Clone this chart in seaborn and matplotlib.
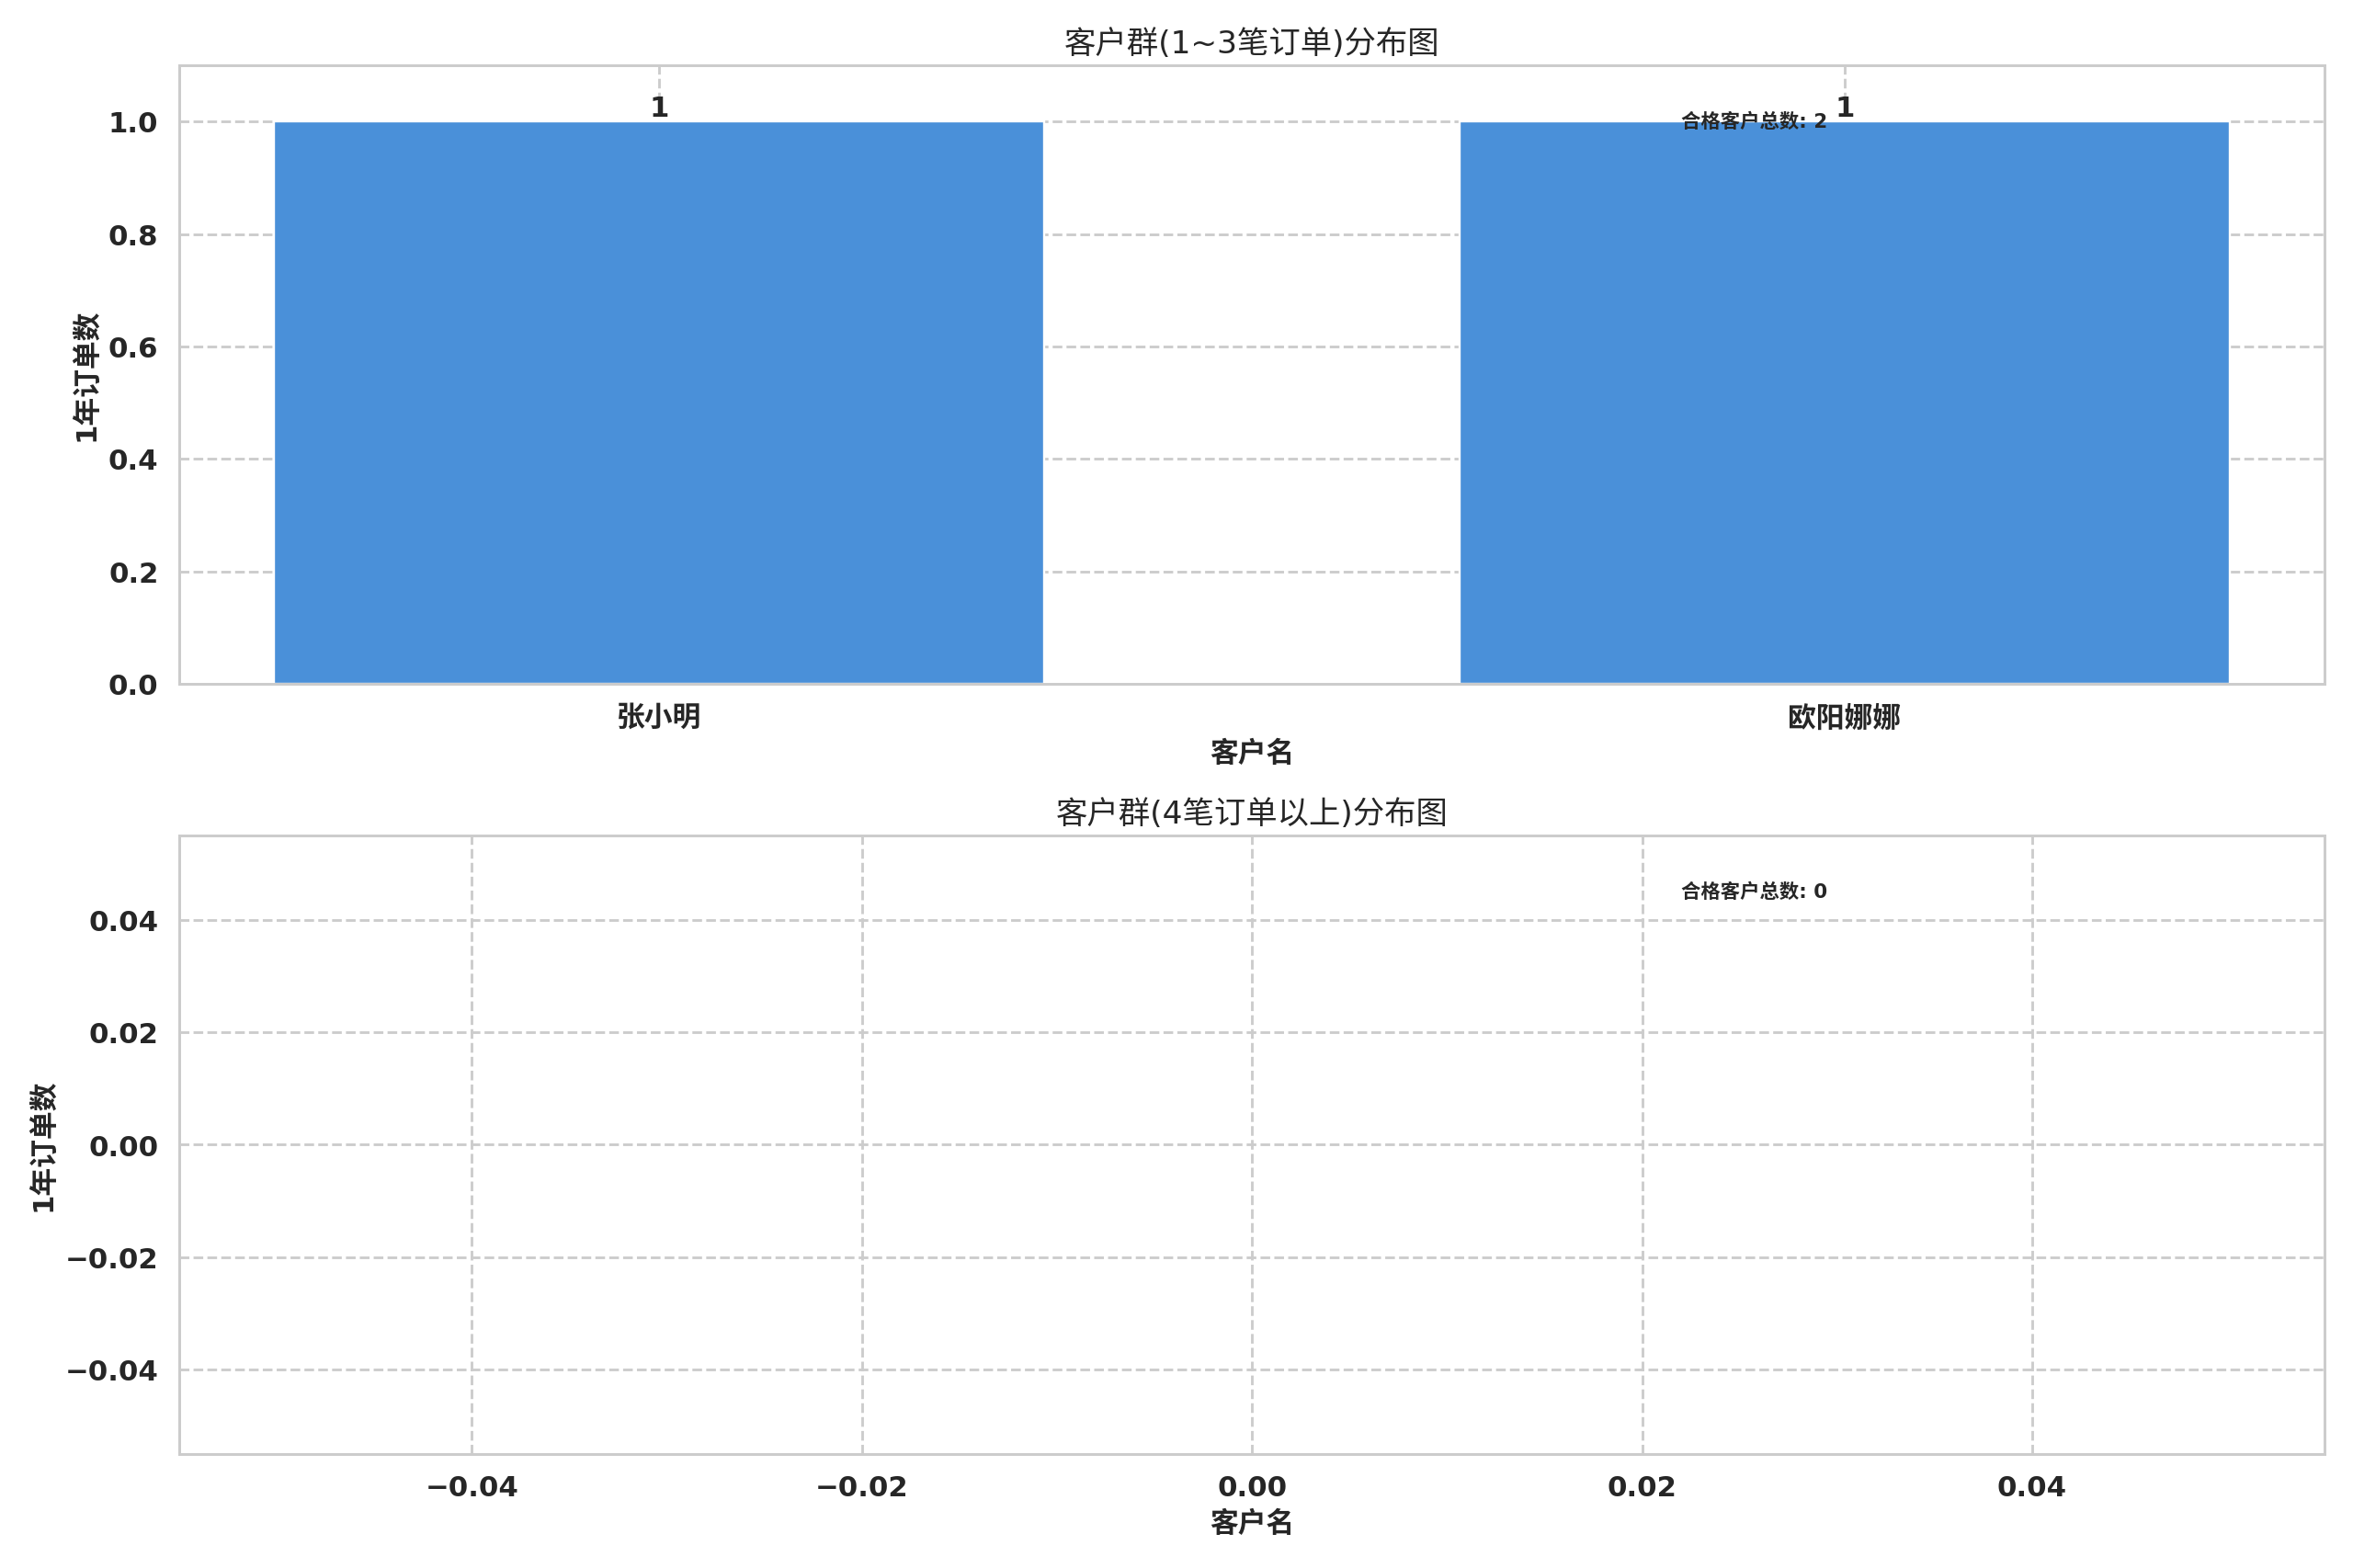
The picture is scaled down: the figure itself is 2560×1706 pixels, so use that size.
import matplotlib
matplotlib.use("Agg")
import matplotlib.pyplot as plt
import seaborn as sns
import pandas as pd

# --- données ---
short_names = ["张小明", "欧阳娜娜"]      # clients 1~3 commandes
short_counts = [1, 1]
long_names = []                          # clients 4+ commandes
long_counts = []

TITLE_SHORT = "客户群(1~3笔订单)分布图"
TITLE_LONG = "客户群(4笔订单以上)分布图"
XLABEL = "客户名"
YLABEL = "1年订单数"
NOTE = "合格客户总数"
BAR_COLOR = "#4A90D9"

sns.set_theme(style="whitegrid")
plt.rcParams["font.family"] = ["DejaVu Sans", "Noto Sans CJK SC"]

fig, axes = plt.subplots(2, 1, figsize=(15, 10))

# 1. groupe court
ax = axes[0]
df_short = pd.DataFrame({"name": short_names, "count": short_counts})
sns.barplot(data=df_short, x="name", y="count", color=BAR_COLOR,
            width=0.65, saturation=1, ax=ax)
ax.set_xlim(-0.405, 1.405)
ax.set_ylim(0, 1.1)
for i, v in enumerate(short_counts):
    ax.text(i, v, str(v), ha="center", va="bottom", fontsize=13, fontweight="bold")
ax.text(0.7, 0.9, f"{NOTE}: {len(short_names)}", transform=ax.transAxes,
        fontsize=9, fontweight="bold")
ax.set_title(TITLE_SHORT, fontsize=14.5)

# 2. groupe long (vide)
ax = axes[1]
ax.bar(long_names, long_counts, color=BAR_COLOR)
ax.set_xlim(-0.055, 0.055)
ax.set_ylim(-0.055, 0.055)
ax.text(0.7, 0.9, f"{NOTE}: {len(long_names)}", transform=ax.transAxes,
        fontsize=9, fontweight="bold")
ax.set_title(TITLE_LONG, fontsize=14.5)

for ax in axes:
    ax.grid(True, linestyle="--", color="#cccccc", linewidth=1.2)
    ax.set_axisbelow(True)
    ax.set_xlabel(XLABEL, fontsize=13, fontweight="bold")
    ax.set_ylabel(YLABEL, fontsize=13, fontweight="bold")
    for lbl in ax.get_xticklabels() + ax.get_yticklabels():
        lbl.set_fontweight("bold")
        lbl.set_fontsize(13)
    for s in ax.spines.values():
        s.set_color("#cccccc")

plt.tight_layout()
plt.savefig("out.png", dpi=2560 / 15)
plt.close()
